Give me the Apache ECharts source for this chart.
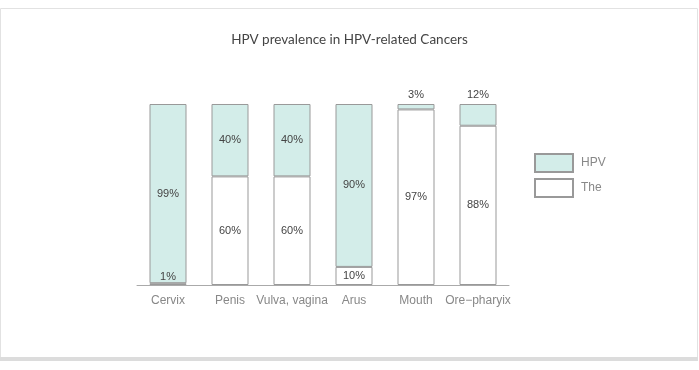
<!DOCTYPE html>
<html>
<head>
<meta charset="utf-8">
<style>html,body{margin:0;padding:0;background:#fff;}#chart{width:699px;height:370px;}</style>
<script src="https://cdn.jsdelivr.net/npm/echarts@6/dist/echarts.min.js"></script>
</head>
<body>
<div id="chart"></div>
<script>
const categories = ['Cervix', 'Penis', 'Vulva, vagina', 'Arus', 'Mouth', 'Ore\u2212pharyix'];
const hpvValues = [99, 40, 40, 90, 3, 12];
const otherValues = [1, 60, 60, 10, 97, 88];
const seriesNames = ['HPV', 'The'];
const titleText = 'HPV prevalence in HPV-related Cancers';

const chart = echarts.init(document.getElementById('chart'), null, {renderer: 'canvas'});
const labelStyle = {show: true, formatter: '{c}%', color: '#444', fontSize: 11, fontFamily: 'Liberation Sans, Arial, sans-serif'};

chart.setOption({
  animation: false,
  backgroundColor: '#fff',
  title: {
    text: titleText, left: 'center', top: 28,
    textStyle: {fontSize: 13.5, fontWeight: 'normal', color: '#444', fontFamily: 'Lato, sans-serif'}
  },
  graphic: [
    {type: 'rect', shape: {x: 0.5, y: 8.5, width: 697, height: 349}, style: {fill: 'none', stroke: '#e2e2e2', lineWidth: 1}, z: -1},
    {type: 'rect', shape: {x: 0, y: 357, width: 698, height: 4}, style: {fill: '#dcdcdc'}, z: -1}
  ],
  legend: {
    orient: 'vertical', left: 529, top: 148, itemWidth: 38, itemHeight: 18, itemGap: 5,
    icon: 'rect',
    data: seriesNames,
    textStyle: {color: '#888', fontSize: 12, fontFamily: 'Liberation Sans, Arial, sans-serif', padding: [0, 0, 0, 3]}
  },
  grid: {left: 137, top: 104, width: 372, bottom: 85},
  xAxis: {
    type: 'category', data: categories,
    axisLine: {lineStyle: {color: '#aaa', width: 1}},
    axisTick: {show: false},
    axisLabel: {interval: 0, color: '#888', fontSize: 12, margin: 10, fontFamily: 'Liberation Sans, Arial, sans-serif'}
  },
  yAxis: {type: 'value', min: 0, max: 100, show: false},
  series: [
    {
      name: seriesNames[1], type: 'bar', stack: 'total', barWidth: 37,
      itemStyle: {color: '#ffffff', borderColor: '#999', borderWidth: 1},
      label: labelStyle,
      data: otherValues.map(v => ({value: v, label: {position: v < 5 ? 'top' : 'inside', distance: 1}}))
    },
    {
      name: seriesNames[0], type: 'bar', stack: 'total', barWidth: 37,
      itemStyle: {color: '#d3ede9', borderColor: '#999', borderWidth: 1},
      label: labelStyle,
      data: hpvValues.map(v => ({value: v, label: {position: v < 15 ? 'top' : 'inside', distance: 4}}))
    }
  ]
});
</script>
</body>
</html>
